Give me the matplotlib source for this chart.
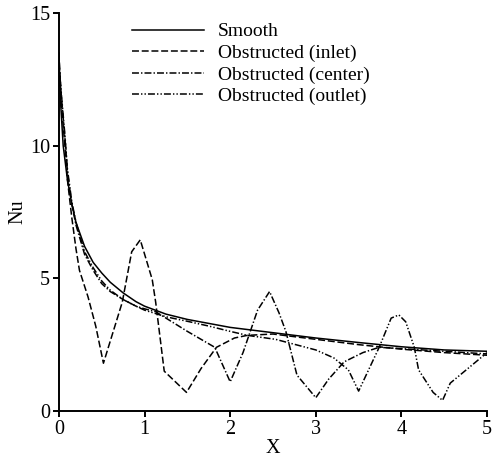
import matplotlib
matplotlib.use("Agg")
import matplotlib.pyplot as plt

# Nusselt number along the channel
x_smooth = [0, 0.02, 0.05, 0.1, 0.15, 0.2, 0.3, 0.4, 0.5, 0.6, 0.75, 0.9, 1.0,
            1.25, 1.5, 1.75, 2.0, 2.5, 3.0, 3.5, 4.0, 4.5, 5.0]
nu_smooth = [13.5, 11.6, 10.0, 8.7, 7.8, 7.1, 6.2, 5.6, 5.2, 4.85, 4.45, 4.12, 3.95,
             3.65, 3.45, 3.3, 3.15, 2.95, 2.75, 2.58, 2.42, 2.3, 2.25]

x_inlet = [0, 0.03, 0.07, 0.1, 0.15, 0.2, 0.24, 0.34, 0.43, 0.52, 0.74, 0.85, 0.95,
           1.09, 1.13, 1.23, 1.49, 1.66, 1.84, 2.05, 2.2, 2.5, 3.0, 3.5, 4.0, 4.5, 5.0]
nu_inlet = [13.5, 11.5, 10.0, 8.7, 7.3, 6.1, 5.3, 4.3, 3.2, 1.8, 4.1, 6.0, 6.45,
            4.95, 4.1, 1.5, 0.7, 1.6, 2.4, 2.75, 2.85, 2.9, 2.7, 2.5, 2.33, 2.2, 2.1]

x_center = [0, 0.03, 0.07, 0.1, 0.15, 0.2, 0.3, 0.4, 0.5, 0.6, 0.75, 0.9, 1.0, 1.13,
            1.5, 1.82, 2.0, 2.15, 2.32, 2.46, 2.57, 2.65, 2.78, 3.0, 3.15, 3.33, 3.55,
            3.74, 4.0, 4.5, 5.0]
nu_center = [13.1, 11.8, 10.3, 9.0, 7.8, 7.0, 5.9, 5.3, 4.8, 4.5, 4.2, 3.95, 3.85, 3.74,
             3.0, 2.4, 1.1, 2.2, 3.8, 4.5, 3.7, 3.0, 1.35, 0.5, 1.2, 1.85, 2.2,
             2.4, 2.35, 2.25, 2.15]

x_outlet = [0, 0.03, 0.07, 0.1, 0.15, 0.2, 0.3, 0.4, 0.5, 0.6, 0.75, 0.9, 1.0, 1.25,
            1.5, 1.75, 2.0, 2.2, 2.53, 3.0, 3.21, 3.38, 3.5, 3.74, 3.88, 3.97, 4.05,
            4.15, 4.2, 4.37, 4.48, 4.57, 5.0]
nu_outlet = [13.1, 11.9, 10.4, 9.1, 7.9, 7.1, 6.0, 5.4, 4.9, 4.55, 4.2, 3.95, 3.8, 3.55,
             3.38, 3.2, 3.0, 2.85, 2.7, 2.3, 2.0, 1.55, 0.75, 2.4, 3.5, 3.62, 3.36,
             2.4, 1.55, 0.7, 0.4, 1.05, 2.2]

labels = ["Smooth", "Obstructed (inlet)", "Obstructed (center)", "Obstructed (outlet)"]

plt.rcParams["font.family"] = ["Liberation Serif", "DejaVu Serif"]
plt.rcParams["font.size"] = 14.5
plt.rcParams["lines.scale_dashes"] = False

fig = plt.figure(figsize=(4.95, 4.57), dpi=100)
ax = fig.add_axes([0.119, 0.1007, 0.865, 0.871])

lw = 1.1
ax.plot(x_smooth, nu_smooth, color="black", lw=lw, label=labels[0])
ax.plot(x_inlet, nu_inlet, color="black", lw=lw, linestyle=(0, (5, 2)), label=labels[1])
ax.plot(x_center, nu_center, color="black", lw=lw, linestyle=(0, (5, 1.5, 1, 1.5)),
        label=labels[2])
ax.plot(x_outlet, nu_outlet, color="black", lw=lw,
        linestyle=(0, (5, 1.5, 1, 1.5, 1, 1.5)), label=labels[3])

ax.set_xlim(0, 5)
ax.set_ylim(0, 15)
ax.set_xticks([0, 1, 2, 3, 4, 5])
ax.set_yticks([0, 5, 10, 15])
for s in ["top", "right"]:
    ax.spines[s].set_visible(False)
for s in ["left", "bottom"]:
    ax.spines[s].set_linewidth(1.4)
ax.tick_params(direction="out", length=4.5, width=1.4, pad=2, labelsize=14.5)
ax.set_xlabel("X", labelpad=0)
ax.set_ylabel("Nu", labelpad=2)

ax.legend(loc="upper left", bbox_to_anchor=(0.171, 0.975), frameon=False,
          borderpad=0, borderaxespad=0, handlelength=3.7, handletextpad=0.7,
          labelspacing=0.2, fontsize=14)

fig.savefig("out.png", dpi=100)
